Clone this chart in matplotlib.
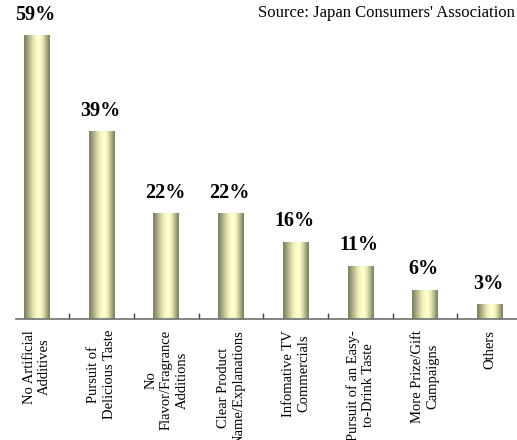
import matplotlib
matplotlib.use("Agg")
import matplotlib.pyplot as plt
import numpy as np

# Reasons consumers give for choosing a product (% of respondents)
categories = [
    "No Artificial\nAdditives",
    "Pursuit of\nDelicious Taste",
    "No\nFlavor/Fragrance\nAdditions",
    "Clear Product\nName/Explanations",
    "Infomative TV\nCommercials",
    "Pursuit of an Easy-\nto-Drink Taste",
    "More Prize/Gift\nCampaigns",
    "Others",
]
values = [59, 39, 22, 22, 16, 11, 6, 3]

plt.rcParams["font.family"] = ["Liberation Serif", "DejaVu Serif"]

fig = plt.figure(figsize=(5.17, 4.40), dpi=100)
fig.patch.set_facecolor("white")
ax = fig.add_axes([16 / 517, 121 / 440, 501 / 517, 312 / 440])
ax.set_xlim(-0.325, 7.42)
ax.set_ylim(0, 65)

# cylinder-like shading: dark olive edges, pale cream highlight slightly right of centre
dark = np.array([128, 128, 96]) / 255
light = np.array([255, 255, 204]) / 255
p = np.linspace(0, 1, 64)
peak = 0.58
t = np.where(p < peak, p / peak, (1 - p) / (1 - peak))
t = np.sin(t * np.pi / 2) ** 1.3
shade = dark[None, :] + (light - dark)[None, :] * t[:, None]
shade = shade[None, :, :]

x = np.arange(len(values))
bars = ax.bar(x, values, width=0.4, color="none", edgecolor="none")
for b, v in zip(bars, values):
    x0, w, h = b.get_x(), b.get_width(), b.get_height()
    ax.imshow(shade, extent=(x0, x0 + w, 0, h), aspect="auto", zorder=2,
              interpolation="bilinear")
    ax.annotate(f"{v}%", (x0 + w / 2, h), xytext=(-1, 15), textcoords="offset points",
                ha="center", va="center", fontsize=14.5, fontweight="bold",
                annotation_clip=False)

ax.set_xlim(-0.325, 7.42)
ax.set_ylim(0, 65)

for side in ("top", "right", "left"):
    ax.spines[side].set_visible(False)
ax.spines["bottom"].set_color("#707070")
ax.spines["bottom"].set_linewidth(1.2)
ax.set_yticks([])

ax.set_xticks(x)
ax.set_xticklabels(categories, rotation=90, va="top", ha="center",
                   multialignment="center", fontsize=10.5, linespacing=1.25)
ax.tick_params(axis="x", which="major", length=0, pad=8)
ax.set_xticks(x[:-1] + 0.5, minor=True)
ax.tick_params(axis="x", which="minor", direction="in", length=4,
               width=1, color="#404040")

fig.text(515 / 517, 1 - 13 / 440, "Source: Japan Consumers' Association",
         ha="right", va="center", fontsize=12)

fig.savefig("out.png", dpi=100)
